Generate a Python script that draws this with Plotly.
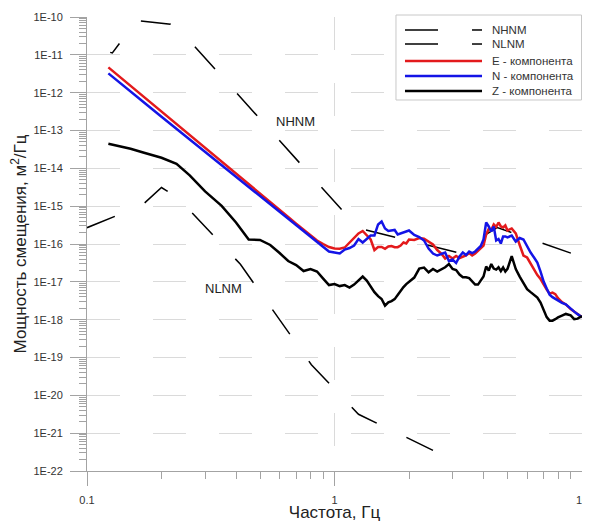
import plotly.graph_objects as go

FONT = "Liberation Sans, Arial, sans-serif"

# frequency grid, Hz
freq = [0.122, 0.13, 0.15, 0.17, 0.2, 0.23, 0.26, 0.3, 0.35, 0.4,
        0.45, 0.5, 0.55, 0.6, 0.65, 0.7, 0.75, 0.8, 0.85, 0.9,
        0.95, 1.0, 1.05, 1.1, 1.15, 1.2, 1.25, 1.3, 1.35, 1.4,
        1.45, 1.5, 1.55, 1.6, 1.65, 1.7, 1.75, 1.8, 1.85, 1.9,
        1.95, 2.0, 2.1, 2.2, 2.3, 2.4, 2.5, 2.6, 2.7, 2.8,
        2.9, 3.0, 3.1, 3.2, 3.3, 3.4, 3.5, 3.6, 3.7, 3.8,
        3.9, 4.0, 4.1, 4.2, 4.3, 4.4, 4.5, 4.6, 4.7, 4.8,
        4.9, 5.0, 5.2, 5.4, 5.6, 5.8, 6.0, 6.2, 6.4, 6.6,
        6.8, 7.0, 7.2, 7.4, 7.6, 7.8, 8.0, 8.3, 8.6, 9.0,
        9.3, 9.6, 10.0]

# E component, m^2/Hz
e_comp = [4.66e-12, 3.29e-12, 1.505e-12, 7.64e-13, 3.16e-13, 1.48e-13, 7.58e-14, 3.49e-14, 1.505e-14, 7.28e-15,
          3.84e-15, 2.15e-15, 1.288e-15, 8.0e-16, 5.16e-16, 3.45e-16, 2.36e-16, 1.68e-16, 1.238e-16, 1.0e-16,
          8.33e-17, 7.60e-17, 7.46e-17, 8.08e-17, 1.096e-16, 1.40e-16, 1.90e-16, 2.21e-16, 1.68e-16, 1.316e-16,
          6.93e-17, 8.33e-17, 8.33e-17, 7.46e-17, 8.59e-17, 8.85e-17, 8.23e-17, 8.23e-17, 9.13e-17, 1.096e-16,
          1.031e-16, 1.316e-16, 1.276e-16, 1.442e-16, 1.373e-16, 1.165e-16, 9.70e-17, 6.93e-17, 5.60e-17, 4.13e-17,
          4.81e-17, 4.13e-17, 4.81e-17, 4.26e-17, 4.52e-17, 4.96e-17, 5.77e-17, 4.96e-17, 5.60e-17, 6.53e-17,
          7.60e-17, 9.13e-17, 1.785e-16, 2.50e-16, 2.35e-16, 3.29e-16, 2.82e-16, 3.71e-16, 2.91e-16, 2.74e-16,
          3.09e-16, 2.28e-16, 2.57e-16, 1.90e-16, 9.41e-17, 4.96e-17, 4.39e-17, 3.04e-17, 2.11e-17, 1.51e-17,
          1.183e-17, 8.45e-18, 6.23e-18, 4.88e-18, 5.19e-18, 4.74e-18, 3.71e-18, 2.91e-18, 2.53e-18, 1.90e-18,
          1.63e-18, 1.40e-18, 1.165e-18]

# N component
n_comp = [3.23e-12, 2.28e-12, 1.063e-12, 5.50e-13, 2.31e-13, 1.106e-13, 5.76e-14, 2.70e-14, 1.20e-14, 5.88e-15,
          3.16e-15, 1.79e-15, 1.086e-15, 6.83e-16, 4.46e-16, 3.02e-16, 2.09e-16, 1.486e-16, 1.096e-16, 8.23e-17,
          6.33e-17, 5.95e-17, 5.60e-17, 7.15e-17, 7.83e-17, 9.13e-17, 1.356e-16, 1.096e-16, 1.40e-16, 1.68e-16,
          1.68e-16, 3.29e-16, 3.94e-16, 2.57e-16, 2.21e-16, 2.28e-16, 2.35e-16, 1.785e-16, 1.90e-16, 2.02e-16,
          2.14e-16, 2.28e-16, 1.73e-16, 1.53e-16, 1.238e-16, 7.60e-17, 5.60e-17, 4.96e-17, 5.43e-17, 5.95e-17,
          3.55e-17, 3.88e-17, 3.14e-17, 4.67e-17, 5.95e-17, 5.11e-17, 6.33e-17, 5.77e-17, 6.33e-17, 7.37e-17,
          8.85e-17, 1.316e-16, 3.71e-16, 2.91e-16, 2.14e-16, 2.91e-16, 1.238e-16, 1.356e-16, 1.031e-16, 1.58e-16,
          1.58e-16, 1.486e-16, 1.68e-16, 1.165e-16, 1.442e-16, 1.316e-16, 8.59e-17, 5.95e-17, 4.39e-17, 3.24e-17,
          1.87e-17, 1.015e-17, 6.63e-18, 4.59e-18, 3.94e-18, 3.53e-18, 3.19e-18, 2.77e-18, 2.53e-18, 1.90e-18,
          1.63e-18, 1.40e-18, 1.165e-18]

# Z component
z_comp = [4.46e-14, 4.07e-14, 3.29e-14, 2.57e-14, 1.90e-14, 1.316e-14, 6.53e-15, 2.46e-15, 1.015e-15, 3.71e-16,
          1.316e-16, 1.276e-16, 9.41e-17, 5.77e-17, 3.55e-17, 2.78e-17, 1.93e-17, 2.18e-17, 1.87e-17, 1.219e-17,
          8.20e-18, 8.72e-18, 7.72e-18, 8.20e-18, 7.04e-18, 8.45e-18, 1.079e-17, 1.377e-17, 1.079e-17, 7.49e-18,
          5.35e-18, 4.19e-18, 3.53e-18, 2.35e-18, 2.87e-18, 3.09e-18, 3.49e-18, 4.46e-18, 5.87e-18, 7.26e-18,
          8.72e-18, 9.85e-18, 1.296e-17, 2.24e-17, 2.39e-17, 1.79e-17, 2.18e-17, 1.87e-17, 2.11e-17, 2.43e-17,
          2.95e-17, 2.18e-17, 2.05e-17, 1.556e-17, 1.32e-17, 1.32e-17, 1.257e-17, 1.047e-17, 8.45e-18, 8.45e-18,
          1.079e-17, 1.377e-17, 2.54e-17, 1.99e-17, 2.95e-17, 2.24e-17, 2.11e-17, 2.43e-17, 1.93e-17, 2.39e-17,
          1.87e-17, 2.20e-17, 4.81e-17, 2.18e-17, 1.377e-17, 8.99e-18, 6.43e-18, 5.35e-18, 4.59e-18, 3.83e-18,
          2.82e-18, 1.84e-18, 1.165e-18, 9.41e-19, 9.41e-19, 1.031e-18, 1.15e-18, 1.276e-18, 1.416e-18, 1.30e-18,
          1.031e-18, 1.063e-18, 1.238e-18]

# Peterson noise models (displacement)
nhnm_freq = [0.1, 0.1266, 0.1587, 0.2174, 0.2632, 1.25, 3.125, 4.545, 10.0]
nhnm_psd = [1.69e-11, 1.12e-11, 8.04e-11, 6.43e-11, 2.12e-11, 2.62e-16, 6.0e-17, 2.73e-16, 4.54e-17]
nlnm_freq = [0.1, 0.1667, 0.2, 0.2326, 0.4167, 0.8065, 1.25, 2.5]
nlnm_psd = [2.70e-16, 1.047e-15, 3.11e-15, 1.70e-15, 2.90e-17, 6.47e-20, 3.16e-21, 3.52e-22]

y_ticks = [10.0 ** p for p in range(-22, -9)]
y_ticktext = ["1E%d" % p for p in range(-22, -9)]
y_minor = [m * 10.0 ** p for p in range(-22, -10) for m in range(2, 10)]
x_ticks = [0.1, 1, 10]
x_ticktext = ["0.1", "1", "10"]
x_minor = [m * 10.0 ** p for p in (-1, 0) for m in range(2, 10)]

legend_items = ["NHNM", "NLNM", "E - компонента", "N - компонента", "Z - компонента"]
legend_colors = ["black", "black", "#e31a1c", "#1414e6", "black"]

nhnm_dash = "0px,24px,14px,33px," + ",".join(["30px,33px"] * 10)

fig = go.Figure()
fig.add_trace(go.Scatter(x=nhnm_freq, y=nhnm_psd, mode="lines", name="NHNM",
                         line=dict(color="black", width=1.5, dash=nhnm_dash)))
fig.add_trace(go.Scatter(x=nlnm_freq, y=nlnm_psd, mode="lines", name="NLNM",
                         line=dict(color="black", width=1.5, dash="30px,33px")))
fig.add_trace(go.Scatter(x=freq, y=e_comp, mode="lines", name="E - компонента",
                         line=dict(color=legend_colors[2], width=2.5)))
fig.add_trace(go.Scatter(x=freq, y=n_comp, mode="lines", name="N - компонента",
                         line=dict(color=legend_colors[3], width=2.5)))
fig.add_trace(go.Scatter(x=freq, y=z_comp, mode="lines", name="Z - компонента",
                         line=dict(color=legend_colors[4], width=2.5)))

axis_grey = "#a3a3a3"
grid_grey = "#dadada"

fig.update_xaxes(type="log", range=[-1, 1], tickvals=x_ticks, ticktext=x_ticktext,
                 automargin=False, ticklabeloverflow="allow",
                 showline=True, linecolor=axis_grey, linewidth=1,
                 ticks="outside", ticklen=14, tickcolor=axis_grey,
                 showgrid=True, gridcolor=grid_grey, gridwidth=1.3, griddash="33px,33px",
                 minor=dict(tickvals=x_minor, ticks="outside", ticklen=7, tickcolor=axis_grey, showgrid=False),
                 zeroline=False, ticklabelstandoff=5,
                 tickfont=dict(size=11, color="#333333"),
                 title=dict(text="Частота, Гц", font=dict(size=17, color="#222222"), standoff=5))
fig.update_yaxes(type="log", range=[-22, -10], tickvals=y_ticks, ticktext=y_ticktext,
                 automargin=False,
                 showline=True, linecolor=axis_grey, linewidth=1,
                 ticks="outside", ticklen=16, tickcolor=axis_grey,
                 showgrid=True, gridcolor=grid_grey, gridwidth=1.3, griddash="33px,33px",
                 minor=dict(tickvals=y_minor, ticks="outside", ticklen=7, tickcolor=axis_grey, showgrid=False),
                 zeroline=False, ticklabelstandoff=5,
                 tickfont=dict(size=11, color="#333333"),
                 title=dict(text="Мощность смещения, м<sup>2</sup>/Гц",
                            font=dict(size=17, color="#222222"), standoff=4))

# labels for the noise models
fig.add_annotation(x=-0.1576, y=-12.755, text="NHNM", showarrow=False,
                   font=dict(size=13, color="#222222"))
fig.add_annotation(x=-0.4485, y=-17.179, text="NLNM", showarrow=False,
                   font=dict(size=13, color="#222222"))

# legend box drawn by hand (paper coordinates)
fig.add_shape(type="rect", xref="paper", yref="paper", x0=0.6242, x1=0.999, y0=0.8172, y1=1.0044,
              line=dict(color="#c8c8c8", width=1), fillcolor="white", layer="above")
row_y = [0.9714, 0.9405, 0.9031, 0.8700, 0.8370]
for i, label in enumerate(legend_items):
    if i < 2:
        fig.add_shape(type="line", xref="paper", yref="paper", x0=0.6424, x1=0.7091,
                      y0=row_y[i], y1=row_y[i], line=dict(color="black", width=1.5), layer="above")
        fig.add_shape(type="line", xref="paper", yref="paper", x0=0.7778, x1=0.7980,
                      y0=row_y[i], y1=row_y[i], line=dict(color="black", width=1.5), layer="above")
    else:
        fig.add_shape(type="line", xref="paper", yref="paper", x0=0.6424, x1=0.7980,
                      y0=row_y[i], y1=row_y[i], line=dict(color=legend_colors[i], width=2.5),
                      layer="above")
    fig.add_annotation(xref="paper", yref="paper", x=0.8141, y=row_y[i], text=label,
                       xanchor="left", yanchor="middle", showarrow=False,
                       font=dict(size=11.5, color="#333333"))

# the page body adds an 8px margin, so the figure is sized to fit the window
fig.update_layout(width=582, height=514, margin=dict(l=79, r=8, t=9, b=51),
                  paper_bgcolor="white", plot_bgcolor="white", showlegend=False,
                  font=dict(family=FONT, size=11, color="#333333"))

fig.write_html("out.html")
